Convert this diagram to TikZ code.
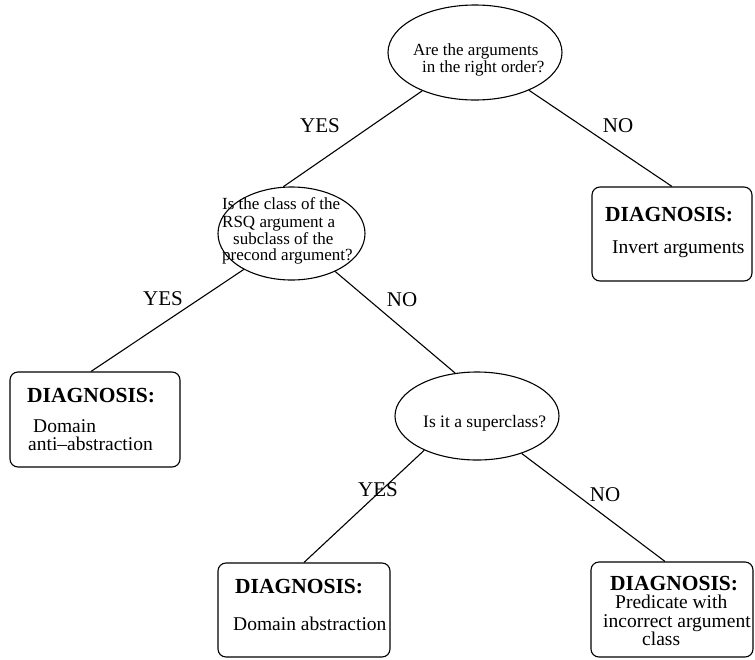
\documentclass[tikz,border=0pt]{standalone}
\usepackage{fontspec}
\setmainfont{Liberation Serif}
\usetikzlibrary{shapes.geometric}

\tikzset{
  question/.style={draw, ellipse, line width=1.1pt, inner sep=0pt},
  diagbox/.style={draw, rectangle, rounded corners=8pt, line width=1.1pt, inner sep=0pt},
  qtext/.style={anchor=base west, inner sep=0pt, font=\fontsize{17}{20}\selectfont},
  headtext/.style={anchor=base west, inner sep=0pt, font=\fontsize{21.5}{24}\selectfont\bfseries},
  bodytext/.style={anchor=base west, inner sep=0pt, font=\fontsize{19.5}{22}\selectfont},
  answer/.style={inner sep=0pt, font=\fontsize{21}{24}\selectfont},
  branch/.style={line width=1.1pt}
}

\begin{document}
\begin{tikzpicture}[x=1pt,y=-1pt]
\useasboundingbox (0,0) rectangle (755,659);

% decision ellipses
\node[question, minimum width=174pt, minimum height=95pt] (e1) at (475,52.5) {};
\node[question, minimum width=147pt, minimum height=93pt] (e2) at (291.5,233.5) {};
\node[question, minimum width=164pt, minimum height=88pt] (e3) at (477,416) {};

% diagnosis boxes
\node[diagbox, minimum width=160pt, minimum height=94pt] (inv) at (672,234) {};
\node[diagbox, minimum width=170pt, minimum height=95pt] (anti) at (95,419.5) {};
\node[diagbox, minimum width=172pt, minimum height=94pt] (abs) at (304,610) {};
\node[diagbox, minimum width=162pt, minimum height=95pt] (pred) at (672,609.5) {};

% questions
\node[qtext] (q1a) at (413,55) {Are the arguments};
\node[qtext] (q1b) at (422,72) {in the right order?};
\node[qtext] (q2a) at (222,209.5) {Is the class of the};
\node[qtext] (q2b) at (222,227.5) {RSQ argument a};
\node[qtext] (q2c) at (233,244) {subclass of the};
\node[qtext] (q2d) at (222,260) {precond argument?};
\node[qtext, font=\fontsize{17.5}{20}\selectfont] (q3) at (423,427) {Is it a superclass?};

% diagnoses
\node[headtext] (invh) at (605,221) {DIAGNOSIS:};
\node[bodytext] (invb) at (612,253) {Invert arguments};
\node[headtext] (antih) at (27,402) {DIAGNOSIS:};
\node[bodytext] (antib1) at (33,432) {Domain};
\node[bodytext] (antib2) at (28,450) {anti--abstraction};
\node[headtext] (absh) at (235,593) {DIAGNOSIS:};
\node[bodytext] (absb) at (233,630) {Domain abstraction};
\node[headtext] (predh) at (610,590.5) {DIAGNOSIS:};
\node[bodytext] (predb1) at (615,608.5) {Predicate with};
\node[bodytext] (predb2) at (603,627) {incorrect argument};
\node[bodytext] (predb3) at (642,645.5) {class};

% branches
\draw[branch] (e1.216) -- (e2.100);
\draw[branch] (e1.-35) -- (inv.north);
\draw[branch] (e2.217) -- ([xshift=-4pt]anti.north);
\draw[branch] (e2.-41) -- (e3.117);
\draw[branch] (e3.213) -- (abs.north);
\draw[branch] (e3.-40) -- ([xshift=-7pt]pred.north);

% branch labels
\node[answer] (y1) at (320,125.5) {YES};
\node[answer] (n1) at (618,125.5) {NO};
\node[answer] (y2) at (163,298.5) {YES};
\node[answer] (n2) at (402,299.5) {NO};
\node[answer] (y3) at (378,489.5) {YES};
\node[answer] (n3) at (605,495) {NO};
\end{tikzpicture}
\end{document}
